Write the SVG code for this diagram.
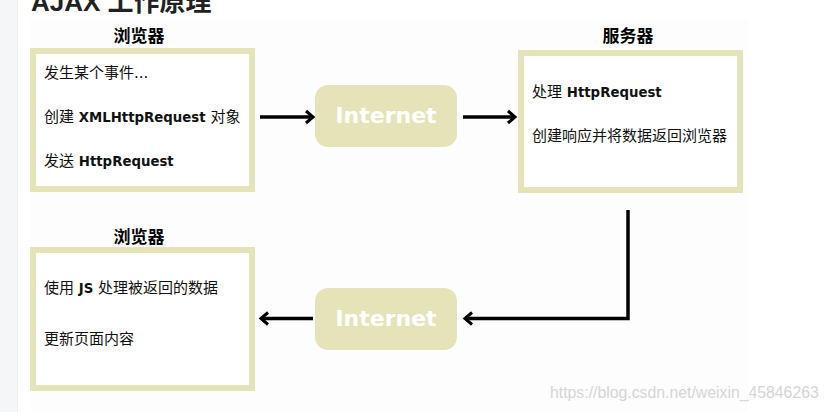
<svg xmlns="http://www.w3.org/2000/svg" width="830" height="412" viewBox="0 0 830 412">
<defs>
<style>
.page{fill:#ffffff}
.strip{fill:#f5f6f7}
.box{fill:#ffffff;stroke:#e5e4b8;stroke-width:6}
.inet{fill:#e5e4b8}
.inet-t{fill:#ffffff;font-family:"DejaVu Sans",Verdana,sans-serif;font-weight:bold;font-size:22px;text-anchor:middle}
.title{fill:#000;font-family:"Noto Sans CJK SC",sans-serif;font-weight:bold;font-size:17px;text-anchor:middle}
.body{fill:#111;font-family:"DejaVu Sans","Noto Sans CJK SC",sans-serif;font-size:15px}
.lat{font-weight:bold;font-size:13.3px}
.conn{fill:none;stroke:#000;stroke-width:3.5}
.wm{fill:#d6d6d6;font-family:"Liberation Sans",Arial,sans-serif;font-size:15.8px}
.h1{fill:#222;font-family:"Liberation Sans","Noto Sans CJK SC",sans-serif;font-weight:bold;font-size:26px}
</style>
<marker id="arr" markerUnits="userSpaceOnUse" markerWidth="16" markerHeight="16" viewBox="0 0 16 16" refX="13" refY="8" orient="auto">
<path d="M6,2 L13,8 L6,14" fill="none" stroke="#000" stroke-width="3"/>
</marker>
</defs>
<rect class="page" x="0" y="0" width="830" height="412"/>
<rect class="strip" x="0" y="0" width="17" height="412"/>
<line x1="17.5" y1="0" x2="17.5" y2="412" stroke="#ececec" stroke-width="1"/>
<rect x="30" y="20" width="718" height="392" fill="#fdfdfd"/>
<text class="h1" x="31" y="11">AJAX 工作原理</text>

<g id="browser-top">
<text class="title" x="139" y="42">浏览器</text>
<rect class="box" x="33" y="51" width="219" height="138"/>
<text class="body" x="44" y="78">发生某个事件...</text>
<text class="body" x="44" y="122">创建 <tspan class="lat">XMLHttpRequest</tspan> 对象</text>
<text class="body" x="44" y="166">发送 <tspan class="lat">HttpRequest</tspan></text>
</g>

<g id="internet-top">
<rect class="inet" x="315" y="85" width="142" height="62" rx="13"/>
<text class="inet-t" x="386" y="123">Internet</text>
</g>

<g id="server">
<text class="title" x="628" y="42">服务器</text>
<rect class="box" x="521" y="53" width="219" height="137"/>
<text class="body" x="532" y="97">处理 <tspan class="lat">HttpRequest</tspan></text>
<text class="body" x="532" y="141">创建响应并将数据返回浏览器</text>
</g>

<g id="browser-bottom">
<text class="title" x="139" y="243">浏览器</text>
<rect class="box" x="33" y="250" width="219" height="138"/>
<text class="body" x="44" y="293">使用 <tspan class="lat">JS</tspan> 处理被返回的数据</text>
<text class="body" x="44" y="344">更新页面内容</text>
</g>

<g id="internet-bottom">
<rect class="inet" x="315" y="288" width="142" height="62" rx="13"/>
<text class="inet-t" x="386" y="326">Internet</text>
</g>

<g id="connectors">
<line class="conn" x1="260" y1="117" x2="313" y2="117" marker-end="url(#arr)"/>
<line class="conn" x1="463" y1="117" x2="515" y2="117" marker-end="url(#arr)"/>
<path class="conn" d="M628,210 V318.5 H465" marker-end="url(#arr)"/>
<line class="conn" x1="313" y1="318.5" x2="261" y2="318.5" marker-end="url(#arr)"/>
</g>

<text class="wm" x="550" y="398">https://blog.csdn.net/weixin_45846263</text>
</svg>
